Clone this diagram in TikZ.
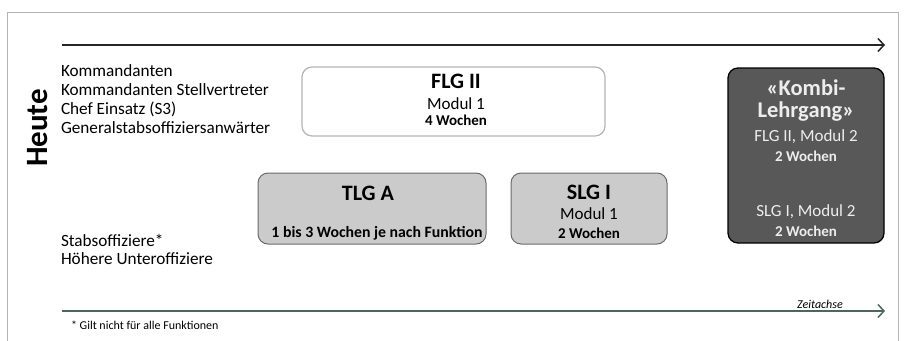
\documentclass[tikz,border=0pt]{standalone}
\usepackage{fontspec}
\setmainfont{Carlito}
\usetikzlibrary{arrows.meta}
\definecolor{framegray}{HTML}{B4B4B4}
\definecolor{boxgray}{HTML}{CBCBCB}
\definecolor{boxedge}{HTML}{6A6A6A}
\definecolor{darkbox}{HTML}{585858}
\definecolor{axisgreen}{HTML}{4E6660}
\definecolor{lighttext}{HTML}{EDEDED}
\begin{document}
\begin{tikzpicture}[x=1pt,y=-1pt,
  every node/.style={inner sep=0pt,outer sep=0pt},
  axis/.style={line width=1.3pt,-{Straight Barb[length=6pt,width=13pt,line width=1.5pt]}},
  lbl/.style={anchor=west,font=\fontsize{17.2}{19}\selectfont},
  graybox/.style={draw=boxedge,fill=boxgray,line width=1pt,rounded corners=10pt},
  lightbox/.style={draw=framegray,fill=white,line width=1.2pt,rounded corners=10pt},
  darkbox/.style={draw=black,fill=darkbox,line width=1.3pt,rounded corners=10pt},
  ttl/.style={font=\bfseries\fontsize{22}{24}\selectfont},
  sub/.style={font=\fontsize{17}{18}\selectfont},
  wk/.style={font=\bfseries\fontsize{15}{16}\selectfont}]
\useasboundingbox (0,0) rectangle (907,340);
\draw[framegray,line width=0.8pt] (7,345) -- (7,12) -- (898,12) -- (898,345);

% axes
\coordinate (t0) at (62,45);
\coordinate (t1) at (885,45);
\draw[axis,draw=black!85] (t0) -- (t1);
\coordinate (b0) at (62,311);
\coordinate (b1) at (885,311);
\draw[axis,draw=axisgreen] (b0) -- (b1);
\node (zeit) at (820,304) {\itshape\fontsize{12}{14}\selectfont Zeitachse};
\node[anchor=west] (fn) at (71,325) {\fontsize{12}{14}\selectfont * Gilt nicht für alle Funktionen};

% Heute
\node[rotate=90] (heute) at (38,128) {\bfseries\fontsize{31}{32}\selectfont Heute};

% left labels
\node[lbl] (l1) at (61,71) {Kommandanten};
\node[lbl] (l2) at (61,90) {Kommandanten Stellvertreter};
\node[lbl] (l3) at (61,109) {Chef Einsatz (S3)};
\node[lbl] (l4) at (61,128) {Generalstabsoffiziersanwärter};
\node[lbl] (l5) at (61,240) {Stabsoffiziere*};
\node[lbl] (l6) at (61,259) {Höhere Unteroffiziere};

% FLG II box
\draw[lightbox] (302,67) rectangle (605,136);
\node[ttl] (flg) at (456,81) {FLG II};
\node[sub] (flgm) at (456,104) {Modul 1};
\node[wk] (flgw) at (456,120) {4 Wochen};

% TLG A box
\draw[graybox] (258,173) rectangle (486,244);
\node[ttl] (tlg) at (368,193) {TLG A};
\node[wk,font=\bfseries\fontsize{15.8}{17}\selectfont] (tlgw) at (377,233) {1 bis 3 Wochen je nach Funktion};

% SLG I box
\draw[graybox] (511,173) rectangle (667,244);
\node[ttl] (slg) at (589,192) {SLG I};
\node[sub] (slgm) at (589,214) {Modul 1};
\node[wk] (slgw) at (589,233) {2 Wochen};

% Kombi box
\draw[darkbox] (728,68) rectangle (884,243);
\node[ttl,text=lighttext,font=\bfseries\fontsize{22.5}{24}\selectfont] (k1) at (806,88) {«Kombi-};
\node[ttl,text=lighttext,font=\bfseries\fontsize{22.5}{24}\selectfont] (k2) at (806,112) {Lehrgang»};
\node[sub,text=lighttext] (k3) at (806,137) {FLG II, Modul 2};
\node[wk,text=lighttext] (k4) at (806,156) {2 Wochen};
\node[sub,text=lighttext] (k5) at (806,212) {SLG I, Modul 2};
\node[wk,text=lighttext] (k6) at (806,231) {2 Wochen};
\end{tikzpicture}
\end{document}
